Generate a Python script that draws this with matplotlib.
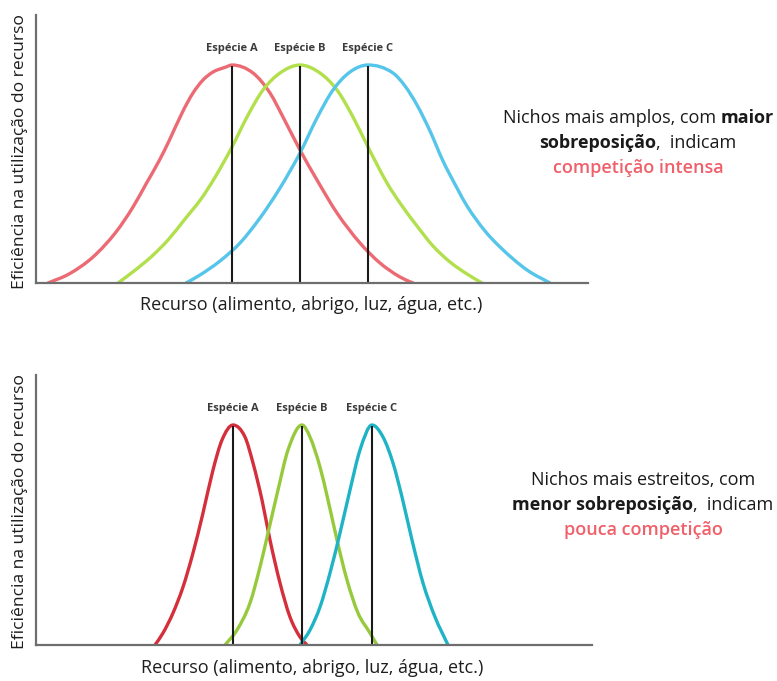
import numpy as np
import matplotlib.pyplot as plt
from matplotlib.path import Path
from matplotlib.patches import PathPatch

plt.rcParams['font.family'] = ['Open Sans', 'DejaVu Sans']

# curves: x = resource position, h = efficiency
top_a_x = [48, 69, 93, 116, 133, 146, 159, 169, 183, 193, 203, 213, 226, 232, 253, 270, 283, 300, 317, 337, 360, 380, 400, 413]
top_a_h = [0, 9, 26, 51, 76, 99, 122, 142, 172, 190, 203, 211, 216, 218, 210, 190, 166, 133, 103, 70, 40, 20, 6, 0]
top_b_x = [118, 134, 151, 168, 185, 201, 214, 232, 247, 263, 280, 300, 320, 337, 353, 368, 387, 400, 417, 433, 450, 467, 482]
top_b_h = [0, 12, 26, 43, 64, 84, 104, 136, 166, 193, 210, 218, 210, 193, 166, 136, 100, 80, 57, 37, 21, 9, 0]
top_c_x = [186, 200, 220, 240, 260, 280, 300, 317, 333, 350, 368, 393, 405, 417, 430, 443, 457, 467, 485, 500, 527, 550]
top_c_h = [0, 8, 22, 40, 65, 95, 130, 165, 193, 211, 218, 210, 197, 178, 152, 122, 95, 77, 52, 36, 13, 0]

bot_a_x = [155, 163, 173, 183, 193, 203, 213, 222, 233, 245, 253, 262, 270, 280, 290, 300, 307]
bot_a_h = [0, 12, 32, 58, 92, 132, 175, 205, 220, 208, 182, 145, 105, 62, 28, 8, 0]
bot_b_x = [225, 237, 250, 260, 268, 278, 288, 302, 310, 320, 328, 337, 347, 358, 370, 377]
bot_b_h = [0, 15, 42, 78, 112, 155, 195, 220, 208, 178, 145, 105, 65, 32, 12, 0]
bot_c_x = [300, 310, 320, 330, 340, 350, 360, 372, 383, 393, 402, 412, 423, 435, 448]
bot_c_h = [0, 15, 38, 72, 112, 155, 195, 220, 208, 182, 148, 105, 62, 28, 0]

species = ['Espécie A', 'Espécie B', 'Espécie C']
top_peaks = [232, 300, 368]
bot_peaks = [233, 302, 372]
top_peak_h = 218
bot_peak_h = 220

xlabel = 'Recurso (alimento, abrigo, luz, água, etc.)'
ylabel = 'Eficiência na utilização do recurso'

top_note = [
    [('Nichos mais amplos, com ', 'normal', '#1a1a1a'), ('maior', 'bold', '#1a1a1a')],
    [('sobreposição', 'bold', '#1a1a1a'), (',  indicam', 'normal', '#1a1a1a')],
    [('competição intensa', 'semibold', '#f0606a')],
]
bot_note = [
    [('Nichos mais estreitos, com', 'normal', '#1a1a1a')],
    [('menor sobreposição', 'bold', '#1a1a1a'), (',  indicam', 'normal', '#1a1a1a')],
    [('pouca competição', 'semibold', '#f0606a')],
]


def smooth_line(ax, xs, ys, color, lw):
    # smooth hermite curve through the read points, drawn as a bezier path
    x = np.asarray(xs, float)
    y = np.asarray(ys, float)
    d = np.diff(y) / np.diff(x)
    m = np.empty_like(x)
    m[0], m[-1] = d[0], d[-1]
    for i in range(1, len(x) - 1):
        m[i] = 0 if d[i - 1] * d[i] <= 0 else (d[i - 1] + d[i]) / 2
    verts = [(x[0], y[0])]
    codes = [Path.MOVETO]
    for i in range(len(x) - 1):
        h = (x[i + 1] - x[i]) / 3
        verts += [(x[i] + h, y[i] + m[i] * h), (x[i + 1] - h, y[i + 1] - m[i + 1] * h), (x[i + 1], y[i + 1])]
        codes += [Path.CURVE4] * 3
    ax.add_patch(PathPatch(Path(verts, codes), fill=False, edgecolor=color,
                           lw=lw, capstyle='round', joinstyle='round'))


W, H = 777, 681
fig = plt.figure(figsize=(W / 100, H / 100), dpi=100)


def make_axes(left, right, top, bottom):
    ax = fig.add_axes([left / W, 1 - bottom / H, (right - left) / W, (bottom - top) / H])
    ax.set_xlim(left, right)
    ax.set_ylim(0, bottom - top)
    for s in ['top', 'right']:
        ax.spines[s].set_visible(False)
    for s in ['left', 'bottom']:
        ax.spines[s].set_color('#6e6e6e')
        ax.spines[s].set_linewidth(1.6)
    ax.set_xticks([])
    ax.set_yticks([])
    ax.patch.set_alpha(0)
    return ax


ax1 = make_axes(36, 588, 15, 283)
ax2 = make_axes(36, 592, 375, 645)

top_colors = ['#ec6a73', '#b2e04c', '#56c5ea']
bot_colors = ['#d42f3a', '#97c93c', '#1fb3c6']

for (xs, hs), c in zip([(top_a_x, top_a_h), (top_b_x, top_b_h), (top_c_x, top_c_h)], top_colors):
    smooth_line(ax1, xs, hs, c, 2.4)
for (xs, hs), c in zip([(bot_a_x, bot_a_h), (bot_b_x, bot_b_h), (bot_c_x, bot_c_h)], bot_colors):
    smooth_line(ax2, xs, hs, c, 2.4)

for ax, peaks, ph in [(ax1, top_peaks, top_peak_h), (ax2, bot_peaks, bot_peak_h)]:
    ax.vlines(peaks, 0, ph - 1, color='#1a1a1a', lw=1.5)
    for name, px in zip(species, peaks):
        ax.text(px, ph + 17, name, ha='center', va='center', fontsize=8,
                fontweight='bold', color='#3a3a3a', clip_on=False)

# axis titles, placed in figure pixels
fig.text(311 / W, 1 - 305 / H, xlabel, ha='center', va='center', fontsize=13, color='#1e1e1e')
fig.text(312 / W, 1 - 668 / H, xlabel, ha='center', va='center', fontsize=13, color='#1e1e1e')
fig.text(20 / W, 1 - 152 / H, ylabel, ha='center', va='center', rotation=90, fontsize=12.6, color='#1e1e1e')
fig.text(20 / W, 1 - 512 / H, ylabel, ha='center', va='center', rotation=90, fontsize=12.6, color='#1e1e1e')

renderer = fig.canvas.get_renderer()


def rich_lines(lines, cx, y0, step, size):
    for k, segs in enumerate(lines):
        y = 1 - (y0 + k * step) / H
        objs = []
        for txt, wt, col in segs:
            t = fig.text(0, y, txt, ha='left', va='center', fontsize=size,
                         fontweight=wt, color=col)
            objs.append(t)
        widths = [t.get_window_extent(renderer).width for t in objs]
        x = cx - sum(widths) / 2
        for t, w in zip(objs, widths):
            t.set_x(x / W)
            x += w


rich_lines(top_note, 638, 118, 25, 13)
rich_lines(bot_note, 643, 480, 25, 13)

fig.savefig('out.png', dpi=100)
